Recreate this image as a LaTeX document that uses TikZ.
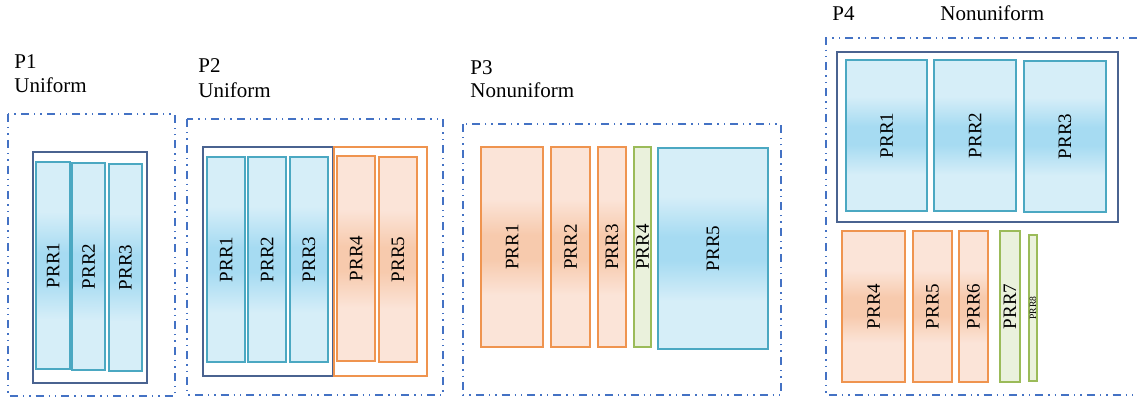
\documentclass[tikz,border=0pt]{standalone}
\usepackage{fontspec}
\setmainfont{Liberation Serif}
\usepackage{tikz}
\definecolor{bluelight}{HTML}{D6EEF8}
\definecolor{bluemid}{HTML}{A6DBF2}
\definecolor{blueedge}{HTML}{4BA8C2}
\definecolor{orangelight}{HTML}{FBE4D8}
\definecolor{orangemid}{HTML}{F7CAAD}
\definecolor{orangeedge}{HTML}{EF944F}
\definecolor{greenfill}{HTML}{EAF1DC}
\definecolor{greenedge}{HTML}{9BBB59}
\definecolor{devcol}{HTML}{4A6390}
\definecolor{partcol}{HTML}{4472C4}
% light fill with a stronger band across the middle
\pgfdeclareverticalshading{blueband}{100bp}{color(0bp)=(bluelight); color(37bp)=(bluelight);
  color(47bp)=(bluemid); color(53bp)=(bluemid); color(63bp)=(bluelight); color(100bp)=(bluelight)}
\pgfdeclareverticalshading{orangeband}{100bp}{color(0bp)=(orangelight); color(38bp)=(orangelight);
  color(47bp)=(orangemid); color(53bp)=(orangemid); color(62bp)=(orangelight); color(100bp)=(orangelight)}
\tikzstyle{bluereg}=[draw=blueedge,line width=0.8pt,shading=blueband]
\tikzstyle{orangereg}=[draw=orangeedge,line width=0.8pt,shading=orangeband]
\tikzstyle{greenreg}=[draw=greenedge,line width=0.8pt,fill=greenfill]
\tikzstyle{devbox}=[draw=devcol,line width=0.8pt]
\tikzstyle{partbox}=[draw=partcol,line width=0.8pt,dash pattern=on 4pt off 2.5pt on 0.7pt off 2.5pt on 0.7pt off 2.5pt]
\tikzstyle{prrlabel}=[rotate=90,inner sep=0pt,font=\fontsize{9.5}{11}\selectfont]
\tikzstyle{title}=[anchor=base west,inner sep=0pt,font=\fontsize{10.5}{12}\selectfont]

\begin{document}
\begin{tikzpicture}[x=0.5pt,y=-0.5pt]
        \useasboundingbox (0,0) rectangle (1137,400);
        % P1: three equal regions
        \node[title] (p1) at (14,69) {P1};
        \node[title] (p1kind) at (14,93) {Uniform};
        \draw[partbox] (8,114) rectangle (175,396);
        \draw[devbox] (33,152) rectangle (147,383);
        \draw[bluereg] (36,162) rectangle node[prrlabel] (p1r1) {PRR1} (70,369);
        \draw[bluereg] (72,163) rectangle node[prrlabel] (p1r2) {PRR2} (105,370);
        \draw[bluereg] (109,164) rectangle node[prrlabel] (p1r3) {PRR3} (142,371);
        % P2: two groups of equal regions
        \node[title] (p2) at (198,73) {P2};
        \node[title] (p2kind) at (198,98) {Uniform};
        \draw[partbox] (187,119) rectangle (443,395);
        \draw[devbox] (203,147) rectangle (333,376);
        \draw[draw=orangeedge,line width=0.8pt] (334,147) rectangle (427,376);
        \draw[bluereg] (207,157) rectangle node[prrlabel] (p2r1) {PRR1} (245,362);
        \draw[bluereg] (248,157) rectangle node[prrlabel] (p2r2) {PRR2} (286,362);
        \draw[bluereg] (290,157) rectangle node[prrlabel] (p2r3) {PRR3} (328,362);
        \draw[orangereg] (337,156) rectangle node[prrlabel] (p2r4) {PRR4} (375,361);
        \draw[orangereg] (379,157) rectangle node[prrlabel] (p2r5) {PRR5} (417,362);
        % P3: regions of different sizes
        \node[title] (p3) at (470,75) {P3};
        \node[title] (p3kind) at (470,98) {Nonuniform};
        \draw[partbox] (463,124) rectangle (781,395);
        \draw[orangereg] (481,147) rectangle node[prrlabel] (p3r1) {PRR1} (543,347);
        \draw[orangereg] (551,147) rectangle node[prrlabel] (p3r2) {PRR2} (590,347);
        \draw[orangereg] (598,147) rectangle node[prrlabel] (p3r3) {PRR3} (626,347);
        \draw[greenreg] (634,147) rectangle node[prrlabel] (p3r4) {PRR4} (651,347);
        \draw[bluereg] (658,148) rectangle node[prrlabel] (p3r5) {PRR5} (768,349);
        % P4: open on the right
        \node[title] (p4) at (832,21) {P4};
        \node[title] (p4kind) at (940,21) {Nonuniform};
        \draw[partbox] (1137,38) -- (826,38) -- (826,395) -- (1137,395);
        \draw[devbox] (837,52) rectangle (1118,222);
        \draw[bluereg] (846,60) rectangle node[prrlabel] (p4r1) {PRR1} (927,211);
        \draw[bluereg] (934,60) rectangle node[prrlabel] (p4r2) {PRR2} (1016,211);
        \draw[bluereg] (1024,61) rectangle node[prrlabel] (p4r3) {PRR3} (1106,212);
        \draw[orangereg] (842,231) rectangle node[prrlabel] (p4r4) {PRR4} (905,382);
        \draw[orangereg] (913,231) rectangle node[prrlabel] (p4r5) {PRR5} (952,382);
        \draw[orangereg] (959,231) rectangle node[prrlabel] (p4r6) {PRR6} (988,382);
        \draw[greenreg] (1000,231) rectangle node[prrlabel] (p4r7) {PRR7} (1020,382);
        \draw[greenreg] (1029,235) rectangle node[prrlabel,font=\fontsize{4.8}{6}\selectfont] (p4r8) {PRR8} (1037,381);
      \end{tikzpicture}
\end{document}
